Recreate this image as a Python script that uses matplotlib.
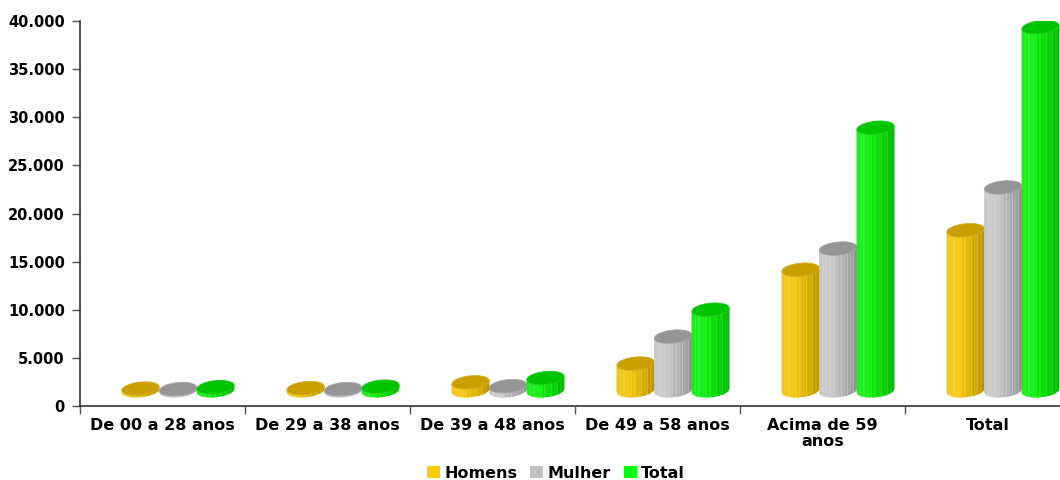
import numpy as np
import matplotlib
matplotlib.use("Agg")
import matplotlib.pyplot as plt
from matplotlib.patches import Polygon, Patch
from matplotlib.collections import PolyCollection
from matplotlib.transforms import offset_copy
from matplotlib.ticker import FuncFormatter
from matplotlib.colors import to_rgb

categories = ["De 00 a 28 anos", "De 29 a 38 anos", "De 39 a 48 anos",
              "De 49 a 58 anos", "Acima de 59\nanos", "Total"]
series_names = ["Homens", "Mulher", "Total"]
homens = [200, 250, 850, 2800, 12550, 16650]
mulher = [150, 150, 450, 5600, 14750, 21100]
total = [350, 400, 1300, 8400, 27300, 37750]
y_ticks = [0, 5000, 10000, 15000, 20000, 25000, 30000, 35000, 40000]

# body base colour, top-cap colour, legend colour
styles = {
    "Homens": ("#F2C400", "#C9A000", "#FFCC00"),
    "Mulher": ("#C4C4C4", "#959595", "#C0C0C0"),
    "Total": ("#00EE00", "#00C400", "#00FF00"),
}

plt.rcParams["font.family"] = ["DejaVu Sans"]
plt.rcParams["font.weight"] = "bold"

fig = plt.figure(figsize=(10.6, 4.8), dpi=100)
ax = fig.add_axes([80 / 1060, 74 / 480, 980 / 1060, 385 / 480])

px_x = 165.0                      # pixels per category
px_y = 385.0 / 40000.0            # pixels per unit value

# depth offset of the 3D bars (pixels)
depth = offset_copy(ax.transData, fig=fig, x=15.5, y=15.5, units="dots")

cyl_px = 37.5                     # cylinder width, pixels
a_px = cyl_px / 2                 # cap semi-major axis, pixels
b_px = 6.5                        # cap semi-minor axis, pixels
tilt = np.deg2rad(6.0)            # perspective tilt of the caps
n_strips = 44
streaks = {4, 8, 13, 17, 21, 26, 29, 33, 36, 40}

ct, st = np.cos(tilt), np.sin(tilt)
x_ext = np.sqrt(a_px ** 2 * ct ** 2 + b_px ** 2 * st ** 2)
mid_slope = (a_px ** 2 - b_px ** 2) * st * ct / (a_px ** 2 * ct ** 2 + b_px ** 2 * st ** 2)
qa = st ** 2 / a_px ** 2 + ct ** 2 / b_px ** 2
qb_k = 2 * (ct * st / a_px ** 2 - st * ct / b_px ** 2)
qc_k = ct ** 2 / a_px ** 2 + st ** 2 / b_px ** 2


def lower_edge(x):
    """Lower boundary (pixels) of the tilted cap at horizontal offset x."""
    B = qb_k * x
    C = qc_k * x * x - 1
    disc = max(0.0, B * B - 4 * qa * C)
    return (-B - np.sqrt(disc)) / (2 * qa)


def cap_outline(xc, yc, n=80):
    t = np.linspace(0, 2 * np.pi, n)
    ex = a_px * np.cos(t) * ct - b_px * np.sin(t) * st
    ey = a_px * np.cos(t) * st + b_px * np.sin(t) * ct
    return np.column_stack([xc + ex / px_x, yc + ey / px_y])


def shade(color, f):
    r, g, b = to_rgb(color)
    if f >= 1:
        t = min(1.0, f - 1)
        return (r + (1 - r) * t, g + (1 - g) * t, b + (1 - b) * t)
    return (r * f, g * f, b * f)


def body_factor(u):
    # lit from the left: bright band on the left, darkening to the right
    if u < -0.6:
        return 1.02 + 0.15 * (u + 1)
    return 1.08 - 0.36 * (u + 0.6) / 1.6


def cylinder(xc, value, body_color, top_color, z):
    xs = np.linspace(-x_ext, x_ext, n_strips + 1)
    polys, cols = [], []
    for i in range(n_strips):
        xa, xb = xs[i], xs[i + 1]
        polys.append([
            (xc + xa / px_x, lower_edge(xa) / px_y),
            (xc + xb / px_x, lower_edge(xb) / px_y),
            (xc + xb / px_x, value + mid_slope * xb / px_y),
            (xc + xa / px_x, value + mid_slope * xa / px_y),
        ])
        f = body_factor(((xa + xb) / 2) / x_ext)
        if i in streaks:
            f += 0.14
        cols.append(shade(body_color, f))
    pc = PolyCollection(polys, facecolors=cols, edgecolors=cols,
                        linewidths=0.3, transform=depth, zorder=z)
    ax.add_collection(pc, autolim=False)
    cap = Polygon(cap_outline(xc, value), closed=True, facecolor=top_color,
                  edgecolor=shade(top_color, 1.15), linewidth=0.6,
                  transform=depth, zorder=z + 0.1)
    ax.add_patch(cap)


data = {"Homens": homens, "Mulher": mulher, "Total": total}
cyl_w = cyl_px / px_x
for ci in range(len(categories)):
    for si, name in enumerate(series_names):
        xc = ci + 0.5 + (si - 1) * cyl_w
        body, top, _ = styles[name]
        cylinder(xc, data[name][ci], body, top, 3 + si * 0.2)

# axes styling
for s in ("top", "right"):
    ax.spines[s].set_visible(False)
for s in ("left", "bottom"):
    ax.spines[s].set_color("#333333")
    ax.spines[s].set_linewidth(1.2)

ax.set_yticks(y_ticks)
ax.yaxis.set_major_formatter(FuncFormatter(lambda v, p: f"{int(v):,}".replace(",", ".")))
ax.tick_params(axis="y", length=6, width=1, color="#555555", labelsize=10.5, pad=5)

ax.set_xticks(np.arange(0, 7))
ax.set_xticklabels([])
ax.set_xticks(np.arange(len(categories)) + 0.5, minor=True)
ax.set_xticklabels(categories, minor=True, fontsize=11.5, fontweight="bold",
                   linespacing=1.05)
ax.tick_params(axis="x", which="major", length=6, width=1, color="#555555")
ax.tick_params(axis="x", which="minor", length=0, pad=9)
for lab in ax.get_yticklabels():
    lab.set_fontweight("bold")

ax.set_xlim(0, 980 / px_x)
ax.set_ylim(0, 40000)

handles = [Patch(facecolor=styles[n][2], edgecolor="none", label=n)
           for n in series_names]
fig.legend(handles=handles, loc="center", bbox_to_anchor=(556 / 1060, 1 - 473 / 480),
           ncol=3, frameon=False, handlelength=0.8, handleheight=0.7,
           handletextpad=0.3, columnspacing=0.8, prop={"weight": "bold", "size": 11.5})

fig.savefig("out.png", dpi=100)
